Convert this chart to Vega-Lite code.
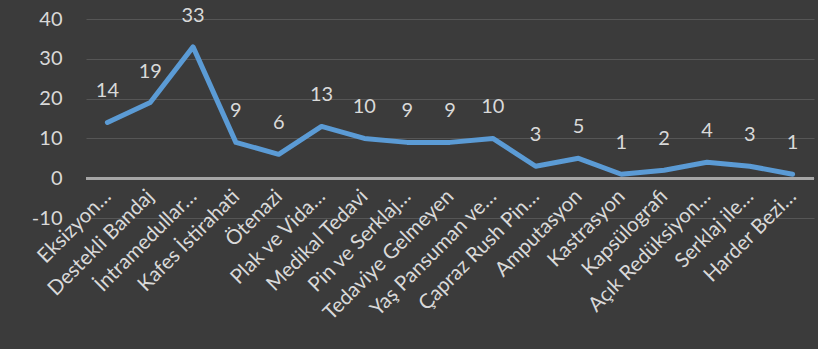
{
  "$schema": "https://vega.github.io/schema/vega-lite/v6.json",
  "width": 728,
  "height": 199,
  "autosize": {"type": "none"},
  "padding": {"left": 86, "top": 19, "right": 4, "bottom": 131},
  "background": "#3b3b3b",
  "config": {
    "view": {"stroke": null},
    "font": "Lato",
    "axis": {"labelColor": "#D9D9D9"}
  },
  "data": {
    "values": [
      {"k": "Eksizyon…", "v": 14},
      {"k": "Destekli Bandaj", "v": 19},
      {"k": "İntramedullar…", "v": 33},
      {"k": "Kafes İstirahati", "v": 9},
      {"k": "Ötenazi", "v": 6},
      {"k": "Plak ve Vida…", "v": 13},
      {"k": "Medikal Tedavi", "v": 10},
      {"k": "Pin ve Serklaj…", "v": 9},
      {"k": "Tedaviye Gelmeyen", "v": 9},
      {"k": "Yaş Pansuman ve…", "v": 10},
      {"k": "Çapraz Rush Pin…", "v": 3},
      {"k": "Amputasyon", "v": 5},
      {"k": "Kastrasyon", "v": 1},
      {"k": "Kapsülografi", "v": 2},
      {"k": "Açık Redüksiyon…", "v": 4},
      {"k": "Serklaj ile…", "v": 3},
      {"k": "Harder Bezi…", "v": 1}
    ]
  },
  "encoding": {
    "x": {
      "field": "k", "type": "nominal", "sort": null,
      "scale": {"type": "point", "padding": 0.5},
      "axis": {
        "title": null, "labelAngle": -45, "labelAlign": "right", "labelBaseline": "middle",
        "labelFont": "Lato", "labelFontSize": 20.5, "ticks": false, "domain": false, "grid": false,
        "offset": -40, "labelPadding": 15, "labelDx": 12, "labelLimit": 300
      }
    },
    "y": {
      "field": "v", "type": "quantitative",
      "scale": {"domain": [-10, 40], "nice": false, "zero": false},
      "axis": {
        "title": null, "values": [-10, 0, 10, 20, 30, 40], "ticks": false, "domain": false,
        "labelFont": "Lato", "labelExpr": "toString(datum.value)",
        "labelFontSize": 20, "labelPadding": 24, "gridColor": "#565656", "gridWidth": 1
      }
    }
  },
  "layer": [
    {
      "mark": {"type": "rule", "color": "#A6A6A6", "strokeWidth": 2.5},
      "encoding": {"y": {"datum": 0}, "x": {"value": 0}, "x2": {"value": 728}}
    },
    {
      "mark": {"type": "line", "color": "#5B9BD5", "strokeWidth": 5, "strokeJoin": "round", "strokeCap": "round"}
    },
    {
      "mark": {"type": "text", "color": "#D9D9D9", "fontSize": 20, "dy": -31, "baseline": "middle"},
      "encoding": {"text": {"field": "v", "type": "quantitative"}}
    }
  ]
}
